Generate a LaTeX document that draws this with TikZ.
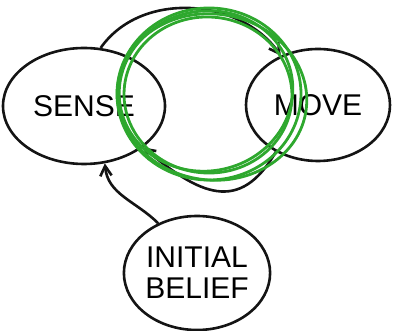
\documentclass[tikz,border=0pt]{standalone}
\usepackage{fontspec}
\setmainfont{Liberation Sans}
\usetikzlibrary{arrows.meta, shapes.geometric}
\definecolor{inkblack}{HTML}{141414}
\definecolor{inkgreen}{HTML}{2EA82E}
\newcommand{\blob}[5]{%
  \node[draw=inkblack, line width=2.6pt, ellipse, inner sep=0pt,
        minimum width=#3, minimum height=#4, align=center,
        font=\fontsize{30}{31}\selectfont] (#1) at (#2) {#5};}

\begin{document}
\begin{tikzpicture}[x=1pt, y=1pt]
      \useasboundingbox (0,0) rectangle (393,331);
      \blob{sense}{84,225}{162pt}{116pt}{SENSE}
      \blob{move}{318,226}{144pt}{112pt}{MOVE}
      \blob{belief}{197,58}{140pt}{114pt}{INITIAL\\BELIEF}
      \draw[-{Straight Barb[length=3.5mm, width=4mm]}, inkblack, line width=2.6pt]
        (sense.74) to[out=55, in=125] (move.127);
      \draw[-{Straight Barb[length=3.5mm, width=4mm]}, inkblack, line width=2.6pt]
        (move.228) to[out=-120, in=-40, looseness=1.4] (sense.-35);
      \draw[-{Straight Barb[length=3.5mm, width=4mm]}, inkblack, line width=2.6pt]
        (belief.128) to[out=135, in=-85] (sense.-70);
      % the loop around both steps
      \draw[inkgreen, line width=2.8pt] (209,237) ellipse [x radius=92pt, y radius=86pt];
      \draw[inkgreen, line width=2.8pt] (206,240) ellipse [x radius=87pt, y radius=80pt, rotate=10];
      \draw[inkgreen, line width=2.8pt] (212,234) ellipse [x radius=95pt, y radius=83pt, rotate=-8];
      \draw[inkgreen, line width=2.8pt] (208,236) ellipse [x radius=84pt, y radius=78pt, rotate=-4];
    \end{tikzpicture}
\end{document}
